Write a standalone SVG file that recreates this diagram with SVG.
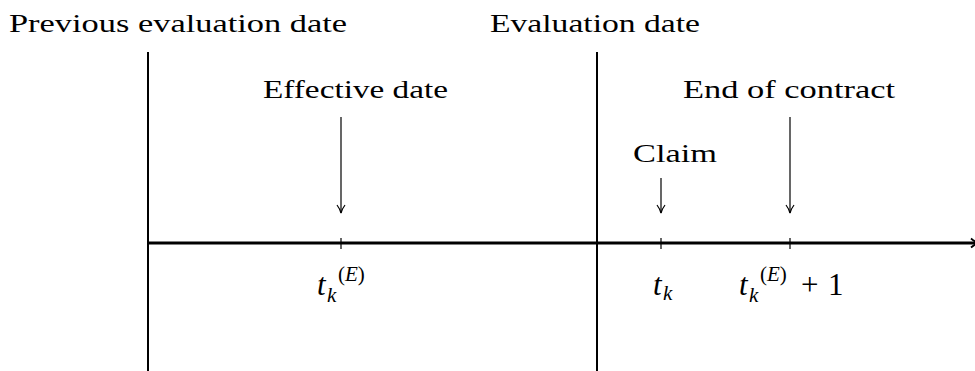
<svg xmlns="http://www.w3.org/2000/svg" width="975" height="371" viewBox="0 0 975 371" font-family="Liberation Serif, serif">
<style>
text{font-family:'Liberation Serif',serif;fill:#000;font-size:26px}
.m{font-style:italic}
.t{font-size:31px}
.s{font-size:21px}
.thin{stroke:#000;stroke-width:1.2;fill:none}
</style>
<defs>
<marker id="ah" viewBox="0 0 10 10" refX="9" refY="5" markerWidth="10" markerHeight="10" markerUnits="userSpaceOnUse" orient="auto">
<path d="M1,1 Q5,4 9,5 Q5,6 1,9" fill="none" stroke="#000" stroke-width="1.2"/>
</marker>
<marker id="ahb" viewBox="0 0 10 10" refX="8" refY="5" markerWidth="10" markerHeight="12" markerUnits="userSpaceOnUse" orient="auto">
<path d="M1,0.5 Q5,4 9,5 Q5,6 1,9.5" fill="none" stroke="#000" stroke-width="1.8"/>
</marker>
</defs>
<rect width="975" height="371" fill="#fff"/>
<g id="connectors">
<line x1="148" y1="52" x2="148" y2="371" stroke="#000" stroke-width="2"/>
<line x1="597" y1="52" x2="597" y2="371" stroke="#000" stroke-width="2"/>
<line x1="148" y1="243" x2="978" y2="243" stroke="#000" stroke-width="3.2" marker-end="url(#ahb)"/>
<line class="thin" x1="341" y1="238" x2="341" y2="249"/>
<line class="thin" x1="661" y1="238" x2="661" y2="249"/>
<line class="thin" x1="790" y1="238" x2="790" y2="249"/>
<line class="thin" x1="341" y1="117" x2="341" y2="213" marker-end="url(#ah)"/>
<line class="thin" x1="661" y1="178" x2="661" y2="213" marker-end="url(#ah)"/>
<line class="thin" x1="790" y1="117" x2="790" y2="213" marker-end="url(#ah)"/>
</g>
<g id="prev-eval"><text x="9" y="32" textLength="338" lengthAdjust="spacingAndGlyphs">Previous evaluation date</text></g>
<g id="eval"><text x="490" y="32" textLength="210" lengthAdjust="spacingAndGlyphs">Evaluation date</text></g>
<g id="effective"><text x="263" y="98" textLength="185" lengthAdjust="spacingAndGlyphs">Effective date</text></g>
<g id="end"><text x="683" y="98" textLength="212" lengthAdjust="spacingAndGlyphs">End of contract</text></g>
<g id="claim"><text x="633" y="162" textLength="84" lengthAdjust="spacingAndGlyphs">Claim</text></g>
<g id="tE">
<text class="t"><tspan class="m" x="317" y="295">t</tspan><tspan class="m s" x="327" y="302">k</tspan><tspan class="s" x="338" y="281">(<tspan class="m">E</tspan>)</tspan></text>
</g>
<g id="tk">
<text class="t"><tspan class="m" x="653" y="295">t</tspan><tspan class="m s" x="663" y="300">k</tspan></text>
</g>
<g id="tE1">
<text class="t"><tspan class="m" x="739" y="295">t</tspan><tspan class="m s" x="749" y="302">k</tspan><tspan class="s" x="760" y="281">(<tspan class="m">E</tspan>)</tspan><tspan x="801" y="295">+</tspan><tspan x="828" y="295">1</tspan></text>
</g>
</svg>
